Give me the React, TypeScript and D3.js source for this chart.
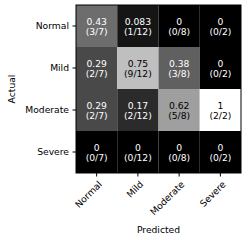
import React, { useEffect, useRef } from 'react';
import * as d3 from 'd3';

const labels = ['Normal', 'Mild', 'Moderate', 'Severe'];
// counts[actual][predicted]
const counts = [
  [3, 1, 0, 0],
  [2, 9, 3, 0],
  [2, 2, 5, 2],
  [0, 0, 0, 0],
];
const colTotals = [7, 12, 8, 2];
const valueText = [
  ['0.43', '0.083', '0', '0'],
  ['0.29', '0.75', '0.38', '0'],
  ['0.29', '0.17', '0.62', '1'],
  ['0', '0', '0', '0'],
];

export default function App() {
  const svgRef = useRef<SVGSVGElement>(null);

  useEffect(() => {
    const width = 249;
    const height = 242;
    const margin = { top: 5, left: 76, right: 8, bottom: 69 };
    const w = width - margin.left - margin.right;
    const h = height - margin.top - margin.bottom;
    const font = 'DejaVu Sans';
    const fs = 9.2;

    const svg = d3.select(svgRef.current).attr('width', width).attr('height', height);
    svg.selectAll('*').remove();
    const g = svg.append('g').attr('transform', `translate(${margin.left},${margin.top})`);

    const x = d3.scaleBand().domain(labels).range([0, w]);
    const y = d3.scaleBand().domain(labels).range([0, h]);
    const color = d3.scaleLinear<string>().domain([0, 1]).range(['#000000', '#ffffff']);

    const cells = counts.flatMap((row, i) =>
      row.map((c, j) => ({ i, j, c, v: c / colTotals[j], t: valueText[i][j] }))
    );

    g.selectAll('rect.cell')
      .data(cells)
      .join('rect')
      .attr('class', 'cell')
      .attr('x', (d) => x(labels[d.j])!)
      .attr('y', (d) => y(labels[d.i])!)
      .attr('width', x.bandwidth())
      .attr('height', y.bandwidth())
      .attr('fill', (d) => color(d.v));

    const txt = g
      .selectAll('text.val')
      .data(cells)
      .join('text')
      .attr('class', 'val')
      .attr('font-family', font)
      .attr('font-size', fs)
      .attr('text-anchor', 'middle')
      .attr('fill', (d) => (d.v > 0.5 ? '#000' : '#fff'));
    txt
      .append('tspan')
      .attr('x', (d) => x(labels[d.j])! + x.bandwidth() / 2)
      .attr('y', (d) => y(labels[d.i])! + y.bandwidth() / 2 - 1)
      .text((d) => d.t);
    txt
      .append('tspan')
      .attr('x', (d) => x(labels[d.j])! + x.bandwidth() / 2)
      .attr('y', (d) => y(labels[d.i])! + y.bandwidth() / 2 + 8.5)
      .text((d) => `(${d.c}/${colTotals[d.j]})`);

    g.append('rect')
      .attr('width', w)
      .attr('height', h)
      .attr('fill', 'none')
      .attr('stroke', '#000')
      .attr('stroke-width', 1);

    const yAxis = g.append('g').call(d3.axisLeft(y).tickSize(3.5).tickPadding(3.5));
    yAxis.select('.domain').remove();
    yAxis.selectAll('text').attr('font-family', font).attr('font-size', fs).attr('fill', '#000');

    const xAxis = g
      .append('g')
      .attr('transform', `translate(0,${h})`)
      .call(d3.axisBottom(x).tickSize(3.5).tickPadding(3.5));
    xAxis.select('.domain').remove();
    xAxis
      .selectAll('text')
      .attr('font-family', font)
      .attr('font-size', fs)
      .attr('fill', '#000')
      .attr('text-anchor', 'end')
      .attr('x', 0)
      .attr('y', 0)
      .attr('dy', '0.75em')
      .attr('transform', 'translate(1,7) rotate(-45)');

    svg
      .append('text')
      .attr('x', margin.left + w / 2)
      .attr('y', 233)
      .attr('text-anchor', 'middle')
      .attr('font-family', font)
      .attr('font-size', fs)
      .text('Predicted');

    svg
      .append('text')
      .attr('transform', `translate(15,${margin.top + h / 2}) rotate(-90)`)
      .attr('text-anchor', 'middle')
      .attr('font-family', font)
      .attr('font-size', fs)
      .text('Actual');
  }, []);

  return <svg ref={svgRef} style={{ position: 'absolute', left: 0, top: 0 }} />;
}
